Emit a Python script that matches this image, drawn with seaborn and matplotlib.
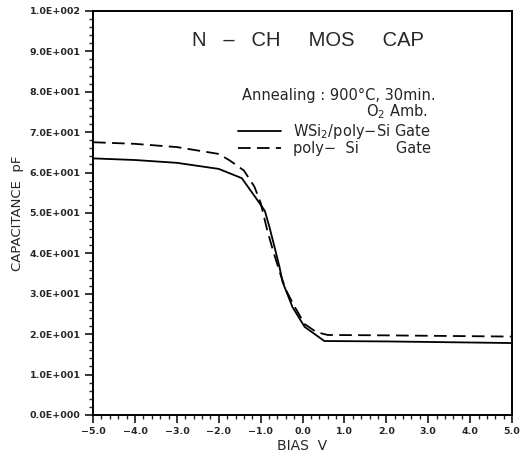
import numpy as np
import pandas as pd
import matplotlib
matplotlib.use("Agg")
import matplotlib.pyplot as plt
from matplotlib.ticker import FuncFormatter, MultipleLocator
from matplotlib.lines import Line2D
import seaborn as sns

# ---- data ----
bias_wsi = [-5.0, -4.0, -3.0, -2.0, -1.45, -1.1, -0.9, -0.79, -0.67, -0.55, -0.48, -0.24, 0.05, 0.52, 2.0, 5.0]
cap_wsi = [63.5, 63.1, 62.4, 60.9, 58.6, 53.5, 50.5, 46.5, 41.6, 36.6, 33.0, 26.7, 21.8, 18.3, 18.2, 17.8]

bias_poly = [-5.0, -4.0, -3.0, -2.0, -1.74, -1.4, -1.15, -1.0, -0.85, -0.7, -0.55, -0.4, -0.2, 0.05, 0.33, 0.6, 2.0, 5.0]
cap_poly = [67.5, 67.1, 66.3, 64.6, 63.0, 60.5, 56.5, 52.5, 46.0, 40.5, 35.5, 31.0, 27.0, 22.5, 20.5, 19.8, 19.7, 19.4]

series_labels = ["WSi$_2$/poly\u2212Si Gate", "poly\u2212  Si        Gate"]
title_text = "N   \u2013   CH     MOS     CAP"
anneal_text = "Annealing : 900\u00b0C, 30min."
amb_text = "O$_2$ Amb."

df_wsi = pd.DataFrame({"bias": bias_wsi, "cap": cap_wsi})
df_poly = pd.DataFrame({"bias": bias_poly, "cap": cap_poly})

sns.set_theme(style="white")
plt.rcParams["font.family"] = ["DejaVu Sans"]

fig = plt.figure(figsize=(5.23, 4.55), dpi=100)
ax = fig.add_axes([0.178, 0.088, 0.801, 0.888])

dash = (0, (7, 3.5))
sns.lineplot(data=df_wsi, x="bias", y="cap", ax=ax, color="black", lw=1.3, linestyle="-", sort=False)
sns.lineplot(data=df_poly, x="bias", y="cap", ax=ax, color="black", lw=1.3, linestyle=dash, sort=False)

ax.set_xlim(-5, 5)
ax.set_ylim(0, 100)

ax.xaxis.set_major_locator(MultipleLocator(1.0))
ax.xaxis.set_minor_locator(MultipleLocator(0.2))
ax.yaxis.set_major_locator(MultipleLocator(10))
ax.yaxis.set_minor_locator(MultipleLocator(2))


def yfmt(v, pos):
    if abs(v) < 1e-9:
        return "0.0E+000"
    e = int(np.floor(np.log10(abs(v))))
    m = v / 10 ** e
    return f"{m:.1f}E+{e:03d}"


def xfmt(v, pos):
    s = f"{v:.1f}"
    return s.replace("-", "\u2212")


ax.yaxis.set_major_formatter(FuncFormatter(yfmt))
ax.xaxis.set_major_formatter(FuncFormatter(xfmt))

ax.tick_params(axis="both", which="major", direction="out", length=6, width=1.3,
               left=True, bottom=True, top=False, right=False, labelsize=6.8, pad=3)
ax.tick_params(axis="both", which="minor", direction="out", length=3, width=1.0,
               left=True, bottom=True, top=False, right=False)
for lab in ax.get_xticklabels() + ax.get_yticklabels():
    lab.set_fontweight("bold")

for sp in ax.spines.values():
    sp.set_visible(True)
    sp.set_color("black")
    sp.set_linewidth(1.4)

ax.set_xlabel("BIAS  V", fontsize=10, labelpad=2)
ax.set_ylabel("CAPACITANCE  pF", fontsize=9.5, labelpad=4)

ax.text(0.513, 0.928, title_text, transform=ax.transAxes, ha="center", va="center",
        fontsize=14.5, family=["Liberation Sans", "DejaVu Sans"])
ax.text(0.355, 0.79, anneal_text, transform=ax.transAxes, ha="left", va="center", fontsize=10.5)
ax.text(0.652, 0.75, amb_text, transform=ax.transAxes, ha="left", va="center", fontsize=10.5)

handles = [Line2D([], [], color="black", lw=1.3, linestyle="-"),
           Line2D([], [], color="black", lw=1.3, linestyle=dash)]
ax.legend(handles, series_labels, loc="upper left", bbox_to_anchor=(0.345, 0.726),
          frameon=False, fontsize=10.5, handlelength=3.0, handletextpad=0.8,
          labelspacing=0.0, borderpad=0, borderaxespad=0)

fig.savefig("out.png", dpi=100, facecolor="white")
